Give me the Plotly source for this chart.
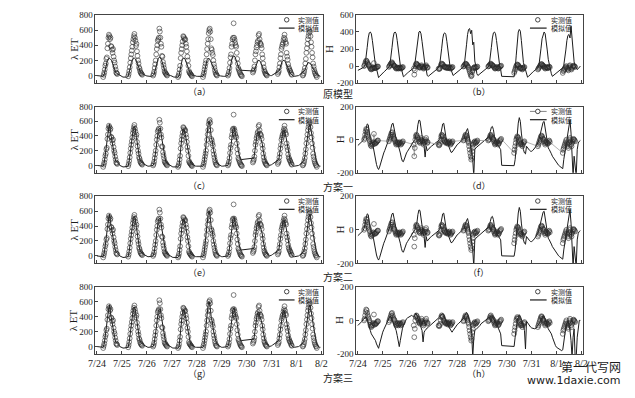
import plotly.graph_objects as go
import pandas as pd

N = None

# ---------------- data ----------------
DAY_LABELS = ["7/24", "7/25", "7/26", "7/27", "7/28", "7/29", "7/30", "7/31", "8/1", "8/2"]
PANEL_LABELS = ["（a）", "（b）", "（c）", "（d）", "（e）", "（f）", "（g）", "（h）"]
SCHEME_LABELS = ["原模型", "方案一", "方案二", "方案三"]
LEGEND_OBS = "实测值"
LEGEND_SIM = "模拟值"

# observed λET, half-hourly 06:00-19:30 each day
ET_OBS = [
    -20, 10, 40, 80, 130, 160, 220, 240, 360, 420, 500, 540, 520, 480, 500, 390, 380, 340, 300, 350, 250, 200, 170, 120, 80, 40, 30, 20,
    -10, 20, 60, 110, 170, 230, 280, 330, 380, 440, 480, 520, 550, 500, 460, 390, 420, 320, 260, 200, 160, 110, 90, 60, 40, 30, 20, 10,
    0, 20, 50, 100, 150, 200, 280, 350, 400, 460, 480, 500, 620, 580, 500, 420, 380, 260, 250, 180, 140, 100, 60, 40, 30, 20, 10, 0,
    -20, 0, 30, 80, 130, 230, 300, 350, 400, 450, 520, 510, 490, 470, 480, 420, 380, 320, 250, 200, 130, 60, 40, 30, 20, 10, 0, -10,
    -20, 10, 40, 80, 120, 160, 200, 280, 350, 420, 480, 560, 600, 620, 580, 480, 360, 340, 300, 270, 200, 150, 110, 70, 40, 20, 10, 0,
    0, 20, 50, 100, 170, 240, 280, 380, 420, 480, 500, 690, 500, 470, 430, 400, 380, 300, 220, 160, 100, 80, 60, 40, 20, 10, 0, -10,
    40, 60, 80, 120, 200, 280, 320, 370, 400, 440, 460, 530, 550, 480, 430, 420, 400, 360, 280, 230, 160, 110, 70, 50, 30, 20, 10, 0,
    20, 40, 60, 110, 160, 230, 280, 350, 380, 410, 430, 470, 500, 540, 480, 440, 420, 300, 250, 210, 150, 110, 90, 70, 60, 40, 20, 10,
    0, 10, 30, 60, 100, 160, 220, 300, 360, 420, 480, 520, 560, 600, 580, 520, 440, 380, 300, 240, 160, 120, 80, 50, 30, 10, 0, -20,
]

# simulated λET, hourly, original model (a)
ET_SIM_ORIG = [
    0, 0, 0, 0, 0, -10, -10, 20, 80, 150, 200, 220, 225, 215, 200, 160, 110, 60, 40, 30, 20, 10, 0, -10,
    -15, -20, -20, -20, -20, -20, -10, 30, 100, 170, 210, 230, 230, 220, 190, 150, 100, 60, 40, 30, 20, 10, 0, 0,
    -5, -10, -10, -10, -10, -5, 0, 20, 80, 150, 200, 230, 240, 235, 210, 160, 110, 60, 30, 20, 10, 10, 0, 0,
    -10, -20, -20, -20, -20, -20, -20, 0, 80, 160, 210, 230, 230, 210, 170, 120, 80, 40, 20, 10, 0, 0, 0, -10,
    -10, -10, -10, -10, -10, -10, -10, 20, 90, 160, 210, 225, 225, 200, 170, 130, 90, 60, 40, 20, 10, 0, 0, -5,
    -10, -10, -10, -10, -10, -10, 0, 30, 100, 180, 230, 255, 260, 240, 200, 150, 110, 80, 70, 70, N, N, N, N,
    N, N, N, N, N, N, N, 60, 100, 150, 190, 200, 200, 190, 160, 120, 80, 50, 40, 30, 20, 10, 0, 0,
    0, 10, 20, 30, 40, 50, 55, 60, 90, 140, 180, 200, 200, 190, 160, 120, 80, 50, 30, 20, 0, -10, -10, -10,
    -10, -10, 0, 10, 20, 30, 40, 50, 70, 110, 150, 170, 170, 165, 150, 120, 90, 60, 40, 20, 10, 0, -10, -10,
]

# simulated λET, hourly, schemes 1-3 (c, e, g read identical)
ET_SIM_NEW = [
    0, 0, 0, 0, 0, -10, -10, 40, 130, 250, 380, 480, 560, 450, 350, 280, 200, 120, 60, 50, 40, 20, 0, -10,
    -15, -20, -20, -20, -20, -20, -10, 60, 180, 300, 420, 510, 530, 480, 380, 260, 160, 90, 60, 40, 30, 20, 10, 0,
    -5, -10, -10, -10, -10, -5, 0, 40, 120, 240, 360, 470, 500, 510, 400, 300, 260, 140, 60, 30, 20, 20, 10, 0,
    -10, -20, -20, -20, -20, -20, -20, 0, 160, 320, 430, 480, 490, 420, 330, 250, 200, 60, 30, 20, 10, 0, 0, -10,
    -10, -10, -10, -10, -10, -10, -10, 20, 150, 300, 450, 560, 600, 520, 380, 330, 220, 150, 80, 40, 20, 10, 0, -5,
    -10, -10, -10, -10, -10, -10, 0, 50, 160, 300, 420, 500, 520, 460, 380, 300, 200, 120, 80, 80, N, N, N, N,
    N, N, N, N, N, N, N, 100, 200, 320, 420, 460, 440, 400, 350, 300, 200, 120, 60, 40, 20, 10, 0, 0,
    10, 20, 30, 40, 50, 60, 70, 80, 180, 300, 400, 470, 490, 440, 380, 300, 220, 120, 60, 20, 0, -10, -10, -10,
    -10, -10, 0, 10, 20, 30, 40, 60, 120, 220, 340, 450, 520, 560, 500, 400, 300, 200, 120, 60, 20, 0, -10, -10,
]

# observed H, half-hourly 06:00-19:30 each day
H_OBS = [
    0, 10, 30, 50, 65, 60, 45, 30, 20, 10, 0, -10, -25, -35, -40, -30, -20, -30, -15, 35, -20, -25, -20, -20, -15, -10, -5, -5,
    -10, 0, 10, 20, 30, 40, 45, 30, 20, 10, 5, 0, -10, -20, -30, -25, -15, -20, -30, -25, -20, -15, -20, -30, -25, -20, -15, -10,
    -30, -100, -50, 0, 20, 30, 25, 15, 10, 0, -10, -15, -20, -10, 0, 10, -5, -10, -20, -30, -20, -15, -10, 0, 10, -10, -20, -15,
    -30, -35, -30, -20, 0, 20, 30, 25, 20, 10, 0, -5, -10, -15, -20, -15, -10, -20, -25, -20, -15, -10, -20, -30, -25, -20, -15, -10,
    -5, 0, 10, 20, 30, 25, 20, 10, 0, -10, -20, -40, -60, -80, -100, -120, -110, -70, -50, -30, -20, -15, -10, -20, -20, -15, -10, -5,
    -5, 0, 5, 15, 25, 30, 20, 15, 10, 5, 0, -10, -20, -30, -25, -20, -15, -10, -20, -30, -25, -20, -10, -5, 0, 5, N, N,
    N, N, -80, -60, -40, -20, 0, 10, 20, 15, 10, 0, -10, -20, -30, -25, -20, -30, -40, -30, -20, -15, -10, N, N, N, N, N,
    -40, -30, -20, -10, 0, 10, 20, 25, 20, 10, 5, 0, -10, -20, -30, -20, -10, -15, -20, -25, -20, -10, -5, -15, N, N, N, N,
    -80, -60, -50, -40, -30, -20, -10, 0, -20, -30, -40, -50, -20, 0, 10, -10, -30, -40, -20, -10, 0, 5, 0, -5, -10, N, N, N,
]

# simulated H, hourly, original model (b)
H_SIM_ORIG = [
    -50, -45, -40, -35, -25, -15, -10, 20, 100, 220, 330, 390, 400, 380, 300, 190, 80, 10, -30, -90, -135, -120, -105, -90,
    -80, -70, -60, -50, -40, -25, -10, 20, 100, 220, 330, 390, 400, 380, 300, 190, 80, 10, -30, -90, -125, -115, -100, -90,
    -80, -70, -60, -50, -40, -30, -20, 20, 110, 230, 340, 400, 410, 380, 290, 180, 70, 0, -40, -110, -120, -110, -100, -90,
    -80, -70, -60, -50, -40, -30, -20, 10, 90, 210, 320, 380, 390, 370, 290, 180, 70, 0, -40, -90, -110, -100, -90, -80,
    -70, -60, -50, -40, -30, -20, -10, 30, 120, 250, 370, 430, 440, 380, 420, 250, 280, 60, 0, -90, -110, -100, -90, -80,
    -70, -60, -50, -40, -30, -20, -10, 20, 100, 220, 330, 390, 400, 380, 300, 190, 80, 10, -40, -120, N, N, N, N,
    N, N, N, N, N, N, N, -125, -40, 120, 300, 400, 430, 410, 300, 150, 40, 0, -40, -100, -130, -120, -105, -90,
    -80, -70, -60, -50, -40, -30, -20, 10, 90, 210, 320, 380, 400, 380, 300, 190, 80, 10, -40, -90, -120, -110, -100, -90,
    -80, -70, -60, -50, -40, -30, -20, 10, 80, 190, 300, 360, 370, 330, 470, 300, 150, 50, 0, -30, -40, -30, -10, 0,
]

# simulated H, hourly, scheme 1 (d); scheme 2 (f) reads the same
H_SIM_S1 = [
    -35, -30, -25, -20, -15, -5, 10, 40, 80, 95, 90, 40, 0, -10, -20, -50, -90, -120, -150, -170, -180, -165, -140, -115,
    -100, -80, -65, -50, -35, -20, -5, 20, 70, 95, 99, 60, 20, 5, -10, -30, -60, -80, -110, -130, -133, -110, -95, -80,
    -70, -60, -50, -40, -30, -20, -10, 0, 30, 40, 90, 118, 115, 60, 10, -20, -40, -105, -40, -67, -60, -50, -45, -40,
    -35, -30, -25, -20, -15, -10, -5, 0, 30, 70, 95, 99, 70, 20, -10, -30, -50, -65, -76, -76, -65, -55, -45, -35,
    -30, -25, -20, -15, -10, -5, 0, 10, 40, 60, 67, 40, 0, -30, -60, -120, -220, -60, -50, -45, -40, -35, -30, -25,
    -20, -15, -10, -5, 0, 5, 10, 20, 50, 75, 80, 60, 20, 0, -20, -30, -40, -48, -60, -155, N, N, N, N,
    N, N, N, N, N, N, N, -157, -120, -40, 40, 100, 133, 110, 40, -20, -60, -80, -86, -40, -50, -60, -65, -70,
    -70, -65, -60, -50, -40, -30, -20, 0, 30, 60, 90, 105, 110, 70, 20, -20, -50, -60, -70, -85, -100, -110, -120, -130,
    -140, -150, -155, -160, -165, -170, -175, -120, -70, -30, 0, 40, 100, 120, 40, -60, -220, -100, -220, -220, -60, -20, -10, -5,
]
H_SIM_S2 = H_SIM_S1

# simulated H, hourly, scheme 3 (h)
H_SIM_S3 = [
    -30, -25, -20, -15, -5, 5, 10, 15, 20, 10, -20, -30, -60, -80, -90, -100, -110, -120, -140, -155, -166, -140, -110, -85,
    -70, -55, -40, -25, -10, 0, 10, 25, 20, 5, -10, -20, -40, -60, -90, -130, -156, -120, -80, -50, -30, -15, 0, 10,
    15, 20, 25, 30, 30, 25, 20, 30, 44, 30, 10, -10, -20, -40, -60, -128, -70, -60, -50, -45, -40, -35, -30, -25,
    -20, -15, -10, -5, 0, 5, 10, 20, 30, 38, 40, 30, 10, 0, -20, -30, -40, -50, -60, -70, -60, -50, -40, -30,
    -25, -20, -15, -10, -5, 0, 10, 25, 40, 48, 40, 20, 0, -30, -80, -220, -110, -60, -55, -50, -45, -40, -30, -20,
    -15, -10, -5, 0, 5, 10, 15, 20, 25, 28, 20, 10, 0, -10, -20, -30, -50, -70, -80, -150, N, N, N, N,
    N, N, N, N, N, N, N, -155, -100, -30, 0, 15, 34, 25, 10, -10, -30, -60, -170, -5, -15, -25, -35, -40,
    -45, -48, -50, -50, -48, -40, -30, -20, -10, 5, 20, 28, 25, 10, -10, -30, -50, -60, -70, -80, -100, -120, -140, -150,
    -160, -165, -170, -175, -180, -180, -175, -120, -80, -40, -20, 0, -30, -60, -120, -220, -100, -50, -220, -220, -100, -30, 0, 0,
]

# ---------------- time axes ----------------
t_model = pd.date_range("2012-07-24 00:00", periods=9 * 24, freq="h")
t_obs = pd.DatetimeIndex([
    t for d in range(9)
    for t in pd.date_range(pd.Timestamp("2012-07-24 06:00") + pd.Timedelta(days=d), periods=28, freq="30min")
])
day_ticks = pd.date_range("2012-07-24", periods=10, freq="D")
X_RANGE = ["2012-07-23 22:30", "2012-08-02 01:30"]

# page has an 8px body margin; figure sized to fit the 635x398 window
OFF = 8
W, H = 635 - OFF, 398 - OFF
def px(x):
    return (x - OFF) / W
def py(y):
    return 1 - (y - OFF) / H

SERIF = "Liberation Serif, DejaVu Serif, serif"
CJK = "Noto Sans CJK SC"
INK = "#1c1c1c"

col_x = [(90, 322), (356, 587)]
row_y = [(10, 80), (104, 172), (196, 265), (289, 358)]

panels = [
    dict(obs=ET_OBS, sim=ET_SIM_ORIG, kind="et"),
    dict(obs=H_OBS, sim=H_SIM_ORIG, kind="h0"),
    dict(obs=ET_OBS, sim=ET_SIM_NEW, kind="et"),
    dict(obs=H_OBS, sim=H_SIM_S1, kind="h", obsline=True),
    dict(obs=ET_OBS, sim=ET_SIM_NEW, kind="et"),
    dict(obs=H_OBS, sim=H_SIM_S2, kind="h"),
    dict(obs=ET_OBS, sim=ET_SIM_NEW, kind="et"),
    dict(obs=H_OBS, sim=H_SIM_S3, kind="h"),
]

MARKER = dict(symbol="circle-open", size=4.8, color="#2a2a2a", line=dict(width=0.6))

fig = go.Figure()
layout = dict(
    width=W, height=H, autosize=False,
    margin=dict(l=0, r=0, t=0, b=0, pad=0),
    paper_bgcolor="white", plot_bgcolor="white",
    showlegend=False,
    font=dict(family=SERIF, size=9, color=INK),
)
annotations = []
shapes = []

def note(text, x, y, family, size, xanchor="center", angle=0):
    annotations.append(dict(text=text, x=px(x), y=py(y), xref="paper", yref="paper",
                            xanchor=xanchor, yanchor="middle", showarrow=False, textangle=angle,
                            borderpad=0, font=dict(family=family, size=size, color=INK)))

for i, p in enumerate(panels):
    r, c = divmod(i, 2)
    n = "" if i == 0 else str(i + 1)
    xa, ya = "x" + n, "y" + n
    x0, x1 = col_x[c]
    ytop, ybot = row_y[r]

    fig.add_trace(go.Scatter(
        x=t_model, y=p["sim"], mode="lines", connectgaps=True,
        line=dict(color=INK, width=1), xaxis=xa, yaxis=ya, hoverinfo="skip"))
    if p.get("obsline"):
        fig.add_trace(go.Scatter(
            x=t_obs, y=p["obs"], mode="lines+markers", connectgaps=True,
            line=dict(color="#a0a0a0", width=0.8), marker=MARKER,
            xaxis=xa, yaxis=ya, hoverinfo="skip"))
    else:
        fig.add_trace(go.Scatter(
            x=t_obs, y=p["obs"], mode="markers", marker=MARKER,
            xaxis=xa, yaxis=ya, hoverinfo="skip"))

    bottom = (r == 3)
    layout["xaxis" + n] = dict(
        domain=[px(x0), px(x1)], anchor=ya, type="date", range=X_RANGE,
        tickmode="array", tickvals=list(day_ticks),
        ticktext=DAY_LABELS if bottom else [""] * len(DAY_LABELS),
        showticklabels=bottom, ticks="inside", ticklen=3, tickcolor="#444",
        showline=True, mirror=True, linecolor="#444", linewidth=1,
        showgrid=False, zeroline=False,
        tickfont=dict(family=SERIF, size=10, color=INK),
    )
    if p["kind"] == "et":
        yr, tv = [-100, 800], [0, 200, 400, 600, 800]
    elif p["kind"] == "h0":
        yr, tv = [-200, 600], [-200, 0, 200, 400, 600]
    else:
        yr, tv = [-200, 200], [-200, 0, 200]
    layout["yaxis" + n] = dict(
        domain=[py(ybot), py(ytop)], anchor=xa, range=yr,
        tickmode="array", tickvals=tv, ticktext=[str(v) for v in tv],
        ticks="inside", ticklen=3, tickcolor="#444",
        showline=True, mirror=True, linecolor="#444", linewidth=1,
        showgrid=False, zeroline=False,
        tickfont=dict(family=SERIF, size=9, color=INK),
    )

    yc = (ytop + ybot) / 2
    if c == 0:
        note("λ ET", 68, yc, SERIF, 11, angle=-90)
    else:
        note("H", 328 if i == 1 else 339, yc, SERIF, 11, angle=-90)

    lab_y = [89, 185, 274, 378][r]
    note(PANEL_LABELS[i], 196 if c == 0 else 481, lab_y, CJK, 9)

    # legend (manual, inside panel top-right)
    if c == 0:
        cx, lx0, lx1, tx = 285, 277, 293, 295
    else:
        cx, lx0, lx1, tx = 541, 533, 550, 553
    ly1, ly2 = ytop + 5, ytop + 13.5
    if p.get("obsline"):
        shapes.append(dict(type="line", xref="paper", yref="paper", x0=px(lx0), x1=px(lx1),
                           y0=py(ly1), y1=py(ly1), line=dict(color="#666", width=0.8)))
    shapes.append(dict(type="circle", xref="paper", yref="paper",
                       x0=px(cx - 2.3), x1=px(cx + 2.3), y0=py(ly1 + 2.3), y1=py(ly1 - 2.3),
                       line=dict(color=INK, width=0.8), fillcolor="white"))
    shapes.append(dict(type="line", xref="paper", yref="paper", x0=px(lx0), x1=px(lx1),
                       y0=py(ly2), y1=py(ly2), line=dict(color=INK, width=1.2)))
    note(LEGEND_OBS, tx, ly1, CJK, 7, xanchor="left")
    note(LEGEND_SIM, tx, ly2, CJK, 7, xanchor="left")

for k, yy in enumerate([91, 186, 278, 382]):
    note(SCHEME_LABELS[k], 337, yy, CJK, 10)

# watermark
note("第一代写网", 595, 371, CJK, 12)
note("www.1daxie.com", 578, 385, "DejaVu Sans", 11)

layout["annotations"] = annotations
layout["shapes"] = shapes
fig.update_layout(**layout)
fig.write_html("out.html")
